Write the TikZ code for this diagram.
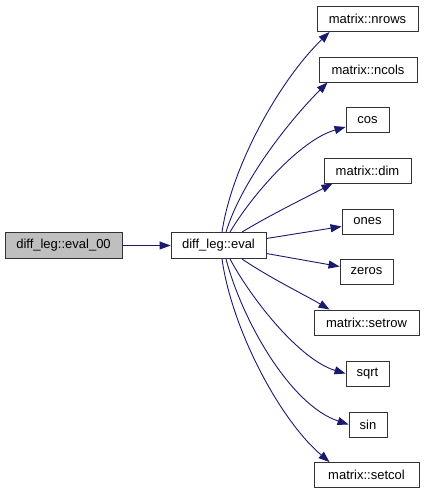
\documentclass[tikz,border=0pt]{standalone}
\usepackage{fontspec}
\setmainfont{Liberation Sans}
\usetikzlibrary{arrows.meta}
\definecolor{edgeblue}{HTML}{191970}
\definecolor{boxgray}{HTML}{BFBFBF}
\tikzset{
  fn/.style={draw=black!80, line width=0.9pt, fill=white, inner sep=0pt, minimum height=25pt,
    font=\fontsize{13pt}{15pt}\selectfont, anchor=center},
  cur/.style={fn, fill=boxgray, minimum height=26pt},
  call/.style={draw=edgeblue, line width=0.9pt, -{Triangle[length=11pt,width=8pt]}},
}
\begin{document}
\begin{tikzpicture}[x=1pt,y=-1pt]
\useasboundingbox (0,0) rectangle (427,493);
\node[cur, minimum width=117pt] (e00) at (63.5,245.5) {diff\_leg::eval\_00};
\node[fn, minimum width=95pt, minimum height=26pt] (ev) at (218.5,245.5) {diff\_leg::eval};
\node[fn, minimum width=101pt] (nrows) at (367.5,19) {matrix::nrows};
\node[fn, minimum width=98pt] (ncols) at (368,69.5) {matrix::ncols};
\node[fn, minimum width=43pt] (cos) at (367.5,120) {cos};
\node[fn, minimum width=87pt] (dim) at (367.5,170.5) {matrix::dim};
\node[fn, minimum width=51pt] (ones) at (367.5,221.5) {ones};
\node[fn, minimum width=53pt] (zeros) at (366.5,271.5) {zeros};
\node[fn, minimum width=105pt] (setrow) at (366.5,322.5) {matrix::setrow};
\node[fn, minimum width=43pt] (sqrt) at (367.5,373.5) {sqrt};
\node[fn, minimum width=38pt] (sin) at (368,424.5) {sin};
\node[fn, minimum width=105pt] (setcol) at (366.5,475) {matrix::setcol};

\draw[call] (e00) -- (ev);
\draw[call] ([xshift=3.5pt]ev.north) .. controls (232,165) and (280,80) .. ([xshift=13pt]nrows.south west);
\draw[call] ([xshift=7.5pt]ev.north) .. controls (242,180) and (290,120) .. ([xshift=9pt]ncols.south west);
\draw[call] ([xshift=11.5pt]ev.north) .. controls (252,195) and (300,140) .. ([yshift=-7pt]cos.west);
\draw[call] ([xshift=23.5pt]ev.north) .. controls (270,215) and (305,198) .. ([xshift=9pt]dim.south west);
\draw[call] ([yshift=7pt]ev.east) -- ([yshift=-5pt]ones.west);
\draw[call] ([yshift=-8pt]ev.east) -- ([yshift=5pt]zeros.west);
\draw[call] ([xshift=23.5pt]ev.south) .. controls (270,278) and (305,295) .. ([xshift=16pt]setrow.north west);
\draw[call] ([xshift=11.5pt]ev.south) .. controls (252,300) and (300,360) .. (sqrt.west);
\draw[call] ([xshift=7.5pt]ev.south) .. controls (242,320) and (290,405) .. (sin.west);
\draw[call] ([xshift=3.5pt]ev.south) .. controls (232,330) and (280,420) .. ([xshift=16pt]setcol.north west);
\end{tikzpicture}
\end{document}
